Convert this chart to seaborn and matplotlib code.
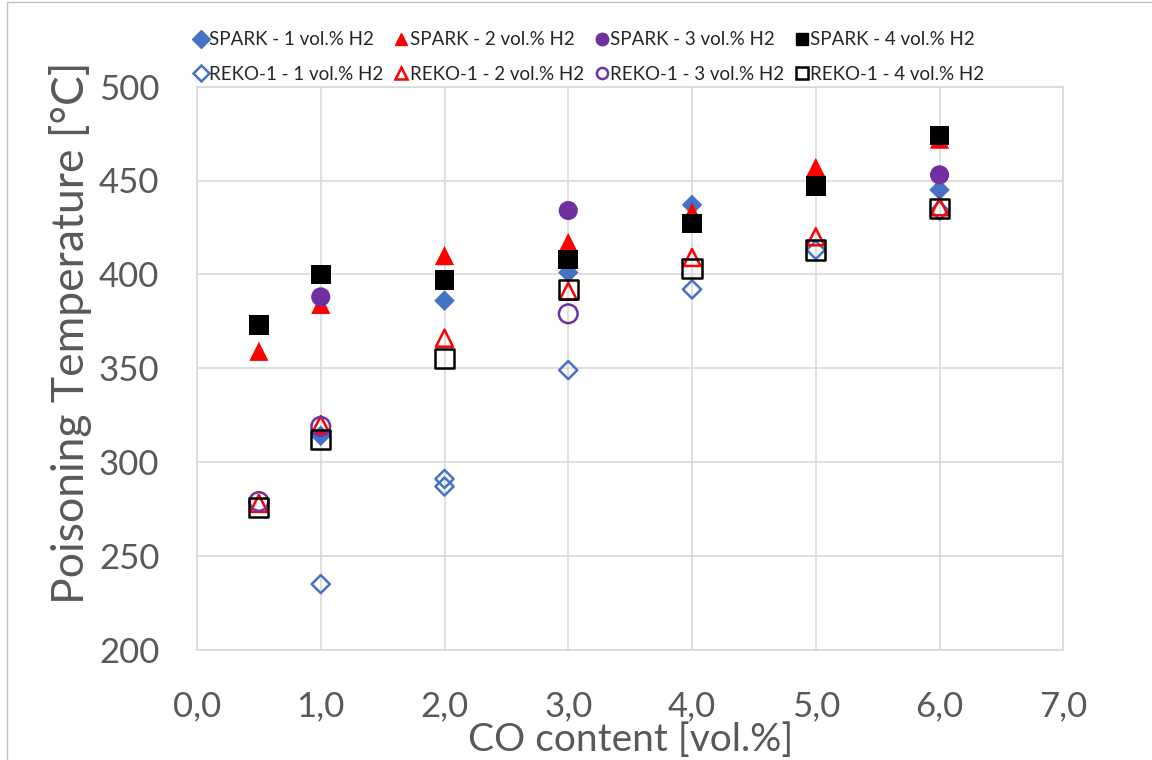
import seaborn as sns
import pandas as pd
import numpy as np
import matplotlib.pyplot as plt
from matplotlib.lines import Line2D

### DATA - poisoning temperature vs CO content
spark1_x = [1, 2, 3, 4, 5, 6]
spark1_y = [314, 386, 401, 437, 452, 445]
spark2_x = [0.5, 1, 2, 3, 4, 5, 6]
spark2_y = [359, 384, 410, 417, 433, 457, 472]
spark3_x = [1, 3, 6]
spark3_y = [388, 434, 453]
spark4_x = [0.5, 1, 2, 3, 4, 5, 6]
spark4_y = [373, 400, 397, 408, 427, 447, 474]

reko1_x = [1, 2, 2, 3, 4, 5, 6]
reko1_y = [235, 291, 287, 349, 392, 413, 434]
reko2_x = [0.5, 1, 2, 3, 4, 5, 6]
reko2_y = [278, 320, 366, 391, 409, 420, 436]
reko3_x = [0.5, 1, 3]
reko3_y = [279, 319, 379]
reko4_x = [0.5, 1, 2, 3, 4, 5, 6]
reko4_y = [276, 312, 355, 392, 403, 413, 435]

labels = ['SPARK - 1 vol.% H2', 'SPARK - 2 vol.% H2', 'SPARK - 3 vol.% H2', 'SPARK - 4 vol.% H2',
          'REKO-1 - 1 vol.% H2', 'REKO-1 - 2 vol.% H2', 'REKO-1 - 3 vol.% H2', 'REKO-1 - 4 vol.% H2']
xs = [spark1_x, spark2_x, spark3_x, spark4_x, reko1_x, reko2_x, reko3_x, reko4_x]
ys = [spark1_y, spark2_y, spark3_y, spark4_y, reko1_y, reko2_y, reko3_y, reko4_y]

colors = ['#4472C4', '#FF0000', '#7030A0', '#000000'] * 2
markers = ['D', '^', 'o', 's'] * 2
filled = [True] * 4 + [False] * 4
sizes = {'D': 110, '^': 190, 'o': 190, 's': 200}
open_sizes = {'D': 85, '^': 150, 'o': 180, 's': 190}

df = pd.concat([pd.DataFrame({'co': x, 'temp': y, 'series': lab})
                for x, y, lab in zip(xs, ys, labels)], ignore_index=True)

sns.set_style('white')
plt.rcParams['font.family'] = ['Lato', 'DejaVu Sans']

fig = plt.figure(figsize=(11.52, 7.6), dpi=100)
ax = fig.add_axes([0.171, 0.145, 0.752, 0.741])

for lab, col, mk, fl in zip(labels, colors, markers, filled):
    sub = df[df['series'] == lab]
    if fl:
        sns.scatterplot(data=sub, x='co', y='temp', ax=ax, marker=mk, s=sizes[mk],
                        color=col, edgecolor='none', linewidth=0, zorder=3)
    else:
        sns.scatterplot(data=sub, x='co', y='temp', ax=ax, marker=mk, s=open_sizes[mk],
                        facecolor='none', edgecolor=col, linewidth=1.8, zorder=4)

ax.set_xlim(0, 7)
ax.set_ylim(200, 500)
ax.set_xticks(np.arange(0, 8, 1))
ax.set_xticklabels([f'{v},0' for v in range(8)])
ax.set_yticks(np.arange(200, 501, 50))
ax.grid(True, color='#d9d9d9', linewidth=1.2)
ax.set_axisbelow(True)
for sp in ax.spines.values():
    sp.set_color('#d9d9d9')
    sp.set_linewidth(1.2)
ax.tick_params(axis='both', length=0, labelsize=25, labelcolor='#595959')
ax.tick_params(axis='y', pad=27)
ax.tick_params(axis='x', pad=29)
ax.set_xlabel('CO content [vol.%]', fontsize=28, color='#595959', va='center')
ax.xaxis.set_label_coords(0.5, -0.161)
ax.set_ylabel('Poisoning Temperature [°C]', fontsize=32, color='#595959', va='center')
ax.yaxis.set_label_coords(-0.146, 0.563)

handles = []
for col, mk, fl in zip(colors, markers, filled):
    if fl:
        handles.append(Line2D([], [], linestyle='none', marker=mk, markersize=9,
                              markerfacecolor=col, markeredgecolor=col))
    else:
        handles.append(Line2D([], [], linestyle='none', marker=mk, markersize=8,
                              markerfacecolor='none', markeredgecolor=col, markeredgewidth=1.8))
# legend fills column by column, so interleave to get SPARK row on top, REKO row below
order = [0, 4, 1, 5, 2, 6, 3, 7]
fig.legend([handles[i] for i in order], [labels[i] for i in order], ncol=4, loc='center',
           bbox_to_anchor=(0.512, 0.925), frameon=False, fontsize=13.5, handlelength=0.6,
           handletextpad=0.15, columnspacing=0.65, labelspacing=0.95)

# outer chart border
fig.add_artist(Line2D([0.006, 0.006], [0, 0.997], transform=fig.transFigure, color='#bfbfbf', linewidth=1))
fig.add_artist(Line2D([0.006, 1], [0.997, 0.997], transform=fig.transFigure, color='#bfbfbf', linewidth=1))

plt.savefig('out.png', dpi=100)
plt.close('all')
